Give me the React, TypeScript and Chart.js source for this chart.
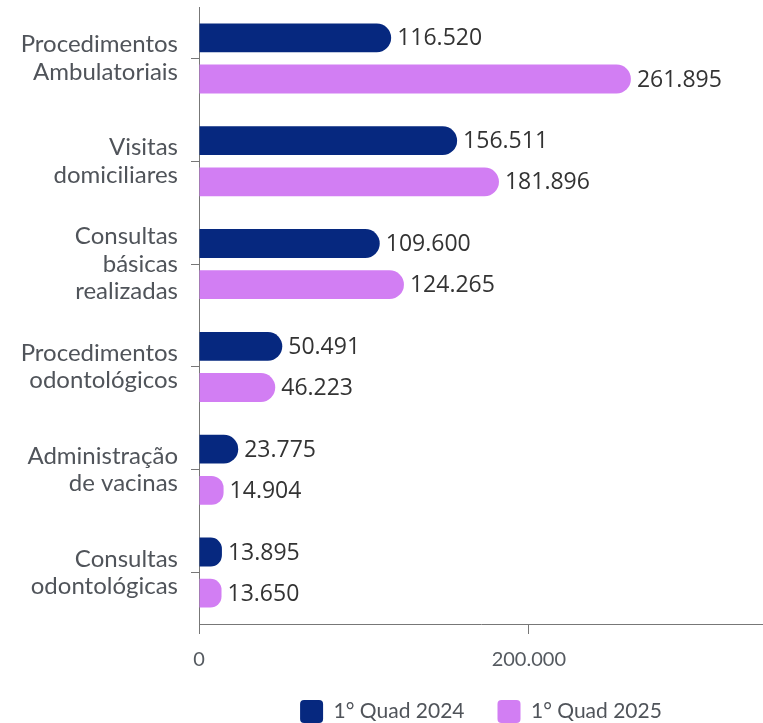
import { useEffect, useRef } from "react";
import { Chart, registerables } from "chart.js";

Chart.register(...registerables);

const categories: string[][] = [
  ["Procedimentos", "Ambulatoriais"],
  ["Visitas", "domiciliares"],
  ["Consultas", "básicas", "realizadas"],
  ["Procedimentos", "odontológicos"],
  ["Administração", "de vacinas"],
  ["Consultas", "odontológicas"],
];
const series2024 = [116520, 156511, 109600, 50491, 23775, 13895];
const series2025 = [261895, 181896, 124265, 46223, 14904, 13650];
const seriesLabels = ["1° Quad 2024", "1° Quad 2025"];
const xMin = 0;
const xMax = 342000;
const xTicks = [0, 200000];

const fmt = (v: number) =>
  String(Math.round(v)).replace(/\B(?=(\d{3})+(?!\d))/g, ".");

const valueLabels = {
  id: "valueLabels",
  afterDatasetsDraw(chart: any) {
    const ctx = chart.ctx;
    ctx.save();
    ctx.font = '23px "Open Sans"';
    ctx.fillStyle = "#333333";
    ctx.textBaseline = "middle";
    ctx.textAlign = "left";
    chart.data.datasets.forEach((ds: any, i: number) => {
      const meta = chart.getDatasetMeta(i);
      meta.data.forEach((bar: any, j: number) => {
        ctx.fillText(fmt(ds.data[j]), bar.x + 6, bar.y + 1);
      });
    });
    ctx.restore();
  },
};

export default function App() {
  const ref = useRef<HTMLCanvasElement | null>(null);

  useEffect(() => {
    if (!ref.current) return;
    const chart = new Chart(ref.current, {
      type: "bar",
      data: {
        labels: categories,
        datasets: [
          {
            label: seriesLabels[0],
            data: series2024,
            backgroundColor: "#06287f",
            borderWidth: 0,
            borderRadius: 15,
            borderSkipped: "start",
            categoryPercentage: 0.8,
            barPercentage: 0.7,
          },
          {
            label: seriesLabels[1],
            data: series2025,
            backgroundColor: "#d27ef3",
            borderWidth: 0,
            borderRadius: 15,
            borderSkipped: "start",
            categoryPercentage: 0.8,
            barPercentage: 0.7,
          },
        ],
      },
      options: {
        indexAxis: "y",
        responsive: true,
        maintainAspectRatio: false,
        animation: false,
        layout: { padding: { top: 7, bottom: -10, left: 0, right: 0 } },
        scales: {
          y: {
            grid: {
              display: true,
              drawOnChartArea: false,
              offset: false,
              tickLength: 8,
              color: "#777777",
            },
            border: { color: "#777777" },
            ticks: {
              font: { family: "Lato", size: 24, lineHeight: 1.15 },
              color: "#50545a",
              padding: 13,
            },
            afterFit: (s: any) => {
              s.width = 199;
              s.paddingTop = 0;
              s.paddingBottom = 0;
            },
          },
          x: {
            min: xMin,
            max: xMax,
            bounds: "data",
            grid: {
              drawOnChartArea: false,
              tickLength: 10,
              color: "#777777",
            },
            border: { color: "#777777" },
            afterBuildTicks: (s: any) => {
              s.ticks = xTicks.map((v) => ({ value: v }));
            },
            ticks: {
              callback: (v: any) => fmt(Number(v)),
              font: { family: "Lato", size: 20 },
              color: "#555a60",
              padding: 14,
              maxRotation: 0,
              autoSkip: false,
            },
            afterFit: (s: any) => {
              s.height = 43;
              s.paddingRight = 0;
            },
          },
        },
        plugins: {
          legend: {
            position: "bottom",
            fullSize: false,
            labels: {
              boxWidth: 23,
              boxHeight: 23,
              padding: 33,
              font: { family: "Lato", size: 21 },
              color: "#50545a",
              useBorderRadius: true,
              borderRadius: 4,
            },
          },
          tooltip: { enabled: false },
        },
      } as any,
      plugins: [valueLabels],
    });
    return () => chart.destroy();
  }, []);

  return (
    <div
      style={{
        position: "fixed",
        left: 0,
        top: 0,
        width: 763,
        height: 723,
        background: "#ffffff",
      }}
    >
      <canvas ref={ref} />
    </div>
  );
}
